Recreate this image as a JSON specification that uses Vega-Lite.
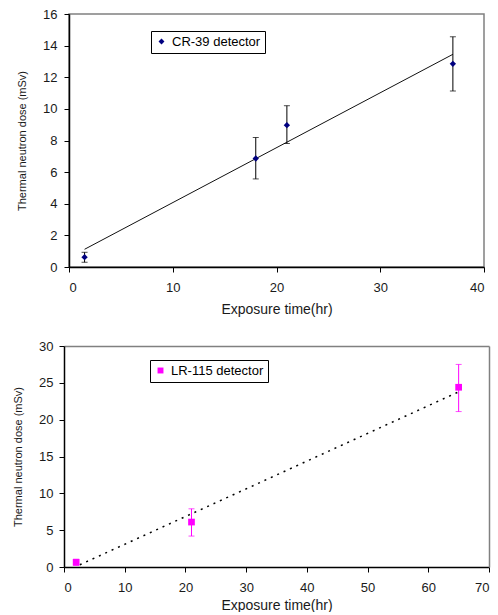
{
  "$schema": "https://vega.github.io/schema/vega-lite/v6.json",
  "padding": {"top": 7, "left": 12, "right": 5, "bottom": 0},
  "background": "white",
  "spacing": 23,
  "datasets": {
    "cr39": [
      {"det": "CR-39 detector", "t": 1.5, "dose": 0.62, "lo": 0.3, "hi": 0.93},
      {"det": "CR-39 detector", "t": 18, "dose": 6.86, "lo": 5.57, "hi": 8.19},
      {"det": "CR-39 detector", "t": 21, "dose": 8.97, "lo": 7.81, "hi": 10.2},
      {"det": "CR-39 detector", "t": 37, "dose": 12.85, "lo": 11.13, "hi": 14.56}
    ],
    "crfit": [
      {"t": 1.5, "fit": 1.12},
      {"t": 37, "fit": 13.45}
    ],
    "lr115": [
      {"det": "LR-115 detector", "t": 2, "dose": 0.64, "lo": 0.25, "hi": 1.05},
      {"det": "LR-115 detector", "t": 21, "dose": 6.1, "lo": 4.2, "hi": 7.9},
      {"det": "LR-115 detector", "t": 65, "dose": 24.4, "lo": 21.1, "hi": 27.5}
    ],
    "lrfit": [
      {"t": 2.6, "fit": 0.3},
      {"t": 64.8, "fit": 23.7}
    ]
  },
  "config": {
    "font": "Liberation Sans",
    "view": {"stroke": "#808080", "strokeWidth": 1.5},
    "axis": {
      "grid": false,
      "domainColor": "black",
      "domainWidth": 1.5,
      "tickColor": "black",
      "tickSize": 5,
      "tickWidth": 1,
      "labelOverlap": false,
      "labelFont": "Liberation Sans",
      "labelFontSize": 13,
      "labelColor": "#1a1a1a",
      "titleFont": "Liberation Sans",
      "titleFontWeight": "normal",
      "titleColor": "#1a1a1a"
    },
    "axisX": {"labelPadding": 9, "titleFontSize": 14, "titlePadding": 4},
    "axisY": {"labelPadding": 7, "titleFontSize": 11},
    "legend": {
      "orient": "none",
      "strokeColor": "black",
      "fillColor": "white",
      "padding": 4,
      "labelFontSize": 13,
      "labelFont": "Liberation Sans",
      "labelColor": "black",
      "symbolSize": 35,
      "cornerRadius": 0
    }
  },
  "resolve": {"scale": {"color": "independent", "shape": "independent"}},
  "vconcat": [
    {
      "width": 415,
      "height": 253,
      "resolve": {"axis": {"x": "independent", "y": "independent"}},
      "layer": [
        {
          "data": {"name": "crfit"},
          "mark": {"type": "line", "color": "#111111", "strokeWidth": 1},
          "encoding": {
            "x": {"field": "t", "type": "quantitative", "scale": {"domain": [0, 40], "nice": false}, "axis": {"values": [0, 10, 20, 30, 40], "title": "Exposure time(hr)", "titlePadding": 8}},
            "y": {"field": "fit", "type": "quantitative", "scale": {"domain": [0, 16], "nice": false}, "axis": {"values": [0, 2, 4, 6, 8, 10, 12, 14, 16], "title": "Thermal neutron dose (mSv)", "titlePadding": 15}}
          }
        },
        {
          "data": {"name": "cr39"},
          "mark": {"type": "rule", "color": "black", "strokeWidth": 1},
          "encoding": {
            "x": {"field": "t", "type": "quantitative", "axis": null},
            "y": {"field": "lo", "type": "quantitative", "axis": null}, "y2": {"field": "hi"}}
        },
        {
          "data": {"name": "cr39"},
          "mark": {"type": "tick", "orient": "horizontal", "color": "black", "size": 6, "thickness": 1},
          "encoding": {
            "x": {"field": "t", "type": "quantitative", "axis": null},
            "y": {"field": "lo", "type": "quantitative", "axis": null}}
        },
        {
          "data": {"name": "cr39"},
          "mark": {"type": "tick", "orient": "horizontal", "color": "black", "size": 6, "thickness": 1},
          "encoding": {
            "x": {"field": "t", "type": "quantitative", "axis": null},
            "y": {"field": "hi", "type": "quantitative", "axis": null}}
        },
        {
          "data": {"name": "cr39"},
          "mark": {"type": "point", "filled": true, "opacity": 1, "size": 40},
          "encoding": {
            "x": {"field": "t", "type": "quantitative", "axis": null},
            "y": {"field": "dose", "type": "quantitative", "axis": null},
            "color": {"field": "det", "type": "nominal", "scale": {"range": ["#000080"]}, "legend": {"title": null, "legendX": 82, "legendY": 17}},
            "shape": {"field": "det", "type": "nominal", "scale": {"range": ["diamond"]}, "legend": {"title": null, "legendX": 82, "legendY": 17}}
          }
        }
      ]
    },
    {
      "width": 420,
      "height": 221,
      "view": {"stroke": null},
      "resolve": {"axis": {"x": "independent", "y": "independent"}},
      "layer": [
        {
          "data": {"name": "lrfit"},
          "mark": {"type": "line", "color": "black", "strokeWidth": 1.5, "strokeDash": [2, 5]},
          "encoding": {
            "x": {"field": "t", "type": "quantitative", "scale": {"domain": [0, 70], "nice": false, "range": [-5, 420]}, "axis": {"values": [0, 10, 20, 30, 40, 50, 60, 70], "title": "Exposure time(hr)"}},
            "y": {"field": "fit", "type": "quantitative", "scale": {"domain": [0, 30], "nice": false}, "axis": {"values": [0, 5, 10, 15, 20, 25, 30], "title": "Thermal neutron dose (mSv)", "offset": 5, "labelPadding": 6, "titlePadding": 15}}
          }
        },
        {
          "data": {"name": "lrfit"},
          "mark": {"type": "point", "opacity": 0},
          "encoding": {
            "x": {"field": "t", "type": "quantitative", "axis": {"orient": "top", "domainColor": "#808080", "domainWidth": 1.5, "ticks": false, "labels": false, "title": null}},
            "y": {"field": "fit", "type": "quantitative", "axis": {"orient": "right", "domainColor": "#808080", "domainWidth": 1.5, "ticks": false, "labels": false, "title": null}}
          }
        },
        {
          "data": {"name": "lr115"},
          "mark": {"type": "rule", "color": "#ff00ff", "strokeWidth": 1},
          "encoding": {
            "x": {"field": "t", "type": "quantitative", "axis": null},
            "y": {"field": "lo", "type": "quantitative", "axis": null}, "y2": {"field": "hi"}}
        },
        {
          "data": {"name": "lr115"},
          "mark": {"type": "tick", "orient": "horizontal", "color": "#ff00ff", "size": 6, "thickness": 1},
          "encoding": {
            "x": {"field": "t", "type": "quantitative", "axis": null},
            "y": {"field": "lo", "type": "quantitative", "axis": null}}
        },
        {
          "data": {"name": "lr115"},
          "mark": {"type": "tick", "orient": "horizontal", "color": "#ff00ff", "size": 6, "thickness": 1},
          "encoding": {
            "x": {"field": "t", "type": "quantitative", "axis": null},
            "y": {"field": "hi", "type": "quantitative", "axis": null}}
        },
        {
          "data": {"name": "lr115"},
          "mark": {"type": "point", "filled": true, "opacity": 1, "size": 45},
          "encoding": {
            "x": {"field": "t", "type": "quantitative", "axis": null},
            "y": {"field": "dose", "type": "quantitative", "axis": null},
            "color": {"field": "det", "type": "nominal", "scale": {"range": ["#ff00ff"]}, "legend": {"title": null, "legendX": 81, "legendY": 14}},
            "shape": {"field": "det", "type": "nominal", "scale": {"range": ["square"]}, "legend": {"title": null, "legendX": 81, "legendY": 14}}
          }
        }
      ]
    }
  ]
}
